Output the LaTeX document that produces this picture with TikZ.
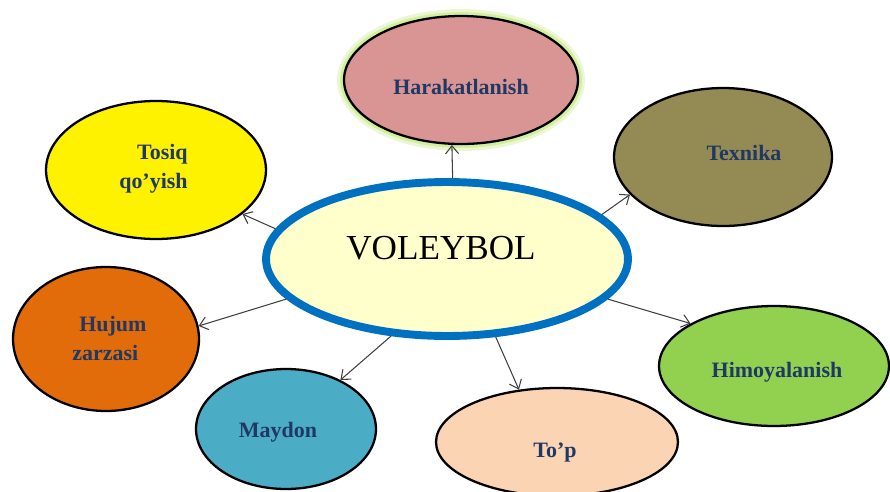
\documentclass[tikz,border=0pt]{standalone}
\usepackage{fontspec}
\setmainfont{Liberation Serif}
\usepackage{tikz}
\usetikzlibrary{shapes,arrows.meta}

\definecolor{navy}{HTML}{1F3864}
\definecolor{glow}{HTML}{D3EE9C}
\definecolor{rose}{HTML}{D99594}
\definecolor{olive}{HTML}{948A54}
\definecolor{pumpkin}{HTML}{E36C0A}
\definecolor{leaf}{HTML}{92D050}
\definecolor{aqua}{HTML}{4BACC6}
\definecolor{peach}{HTML}{FBD4B4}
\definecolor{cream}{HTML}{FFFFCC}
\definecolor{ring}{HTML}{0070C0}

\begin{document}
\begin{tikzpicture}[x=0.02cm,y=-0.02cm]
	\tikzset{bubble/.style={ellipse,draw=black,line width=1.3pt,inner sep=0pt},
		lbl/.style={font=\fontsize{12.5}{16}\selectfont\bfseries,text=navy,inner sep=0pt},
		arr/.style={draw=black!75,line width=0.6pt,-{Straight Barb[length=1.6mm,width=2.6mm]}}}
	\useasboundingbox (0,0) rectangle (890,491);

	%% centre
	\node[bubble,draw=ring,fill=cream,line width=4.5pt,minimum width=7.24cm,minimum height=3.08cm] (v) at (447,259) {};
	\node[font=\fontsize{20}{24}\selectfont,anchor=base,inner sep=0pt] (v-t) at (441,259) {VOLEYBOL};

	%% topics
	\node[bubble,fill=rose,minimum width=4.68cm,minimum height=2.56cm,
		preaction={draw=glow!45,line width=8pt},preaction={draw=glow,line width=4.5pt}] (h) at (461,80) {};
	\node[bubble,fill=yellow,minimum width=4.4cm,minimum height=2.76cm] (t) at (156,170) {};
	\node[bubble,fill=olive,minimum width=4.36cm,minimum height=2.76cm] (x) at (723,157) {};
	\node[bubble,fill=pumpkin,minimum width=3.72cm,minimum height=2.88cm] (hu) at (106,339) {};
	\node[bubble,fill=leaf,minimum width=4.6cm,minimum height=2.4cm] (hi) at (774,366) {};
	\node[bubble,fill=aqua,minimum width=3.6cm,minimum height=2.4cm] (m) at (286,429) {};
	\node[bubble,fill=peach,minimum width=4.84cm,minimum height=2.16cm] (p) at (557,442) {};

	%% labels
	\node[lbl,anchor=base] (h-t) at (461,94) {Harakatlanish};
	\node[lbl,anchor=base east,align=right] (t-t) at (188,188) {Tosiq\\qo’yish};
	\node[lbl,anchor=base] (x-t) at (744,160) {Texnika};
	\node[lbl,anchor=base west,align=left] (hu-t) at (72,360) {\hspace{0.14cm}Hujum\\zarzasi};
	\node[lbl,anchor=base] (hi-t) at (777,377) {Himoyalanish};
	\node[lbl,anchor=base] (m-t) at (278,437) {Maydon};
	\node[lbl,anchor=base] (p-t) at (555,457) {To’p};

	%% arrows
	\draw[arr] (v.86.5) -- (h.262);
	\draw[arr] (v.170) -- (t.333);
	\draw[arr] (v.16.4) -- (x.202);
	\draw[arr] (v.194) -- (hu.8.5);
	\draw[arr] (v.346.5) -- (hi.153);
	\draw[arr] (v.234) -- (m.42);
	\draw[arr] (v.302) -- (p.126);
\end{tikzpicture}
\end{document}
